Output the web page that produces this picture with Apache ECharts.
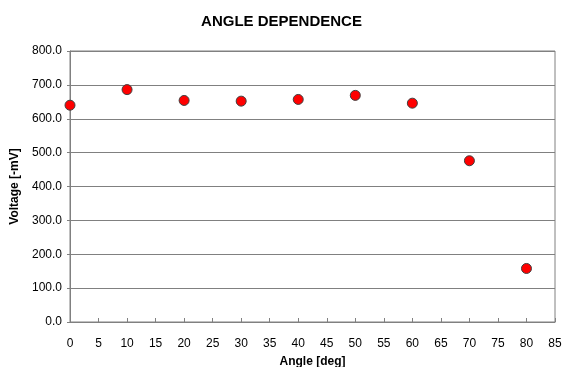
<!DOCTYPE html>
<html><head><meta charset="utf-8">
<script src="https://cdn.jsdelivr.net/npm/echarts@6/dist/echarts.min.js"></script>
<style>html,body{margin:0;padding:0;background:#fff}#c{width:563px;height:367px}</style>
</head><body><div id="c"></div>
<script>
const angles = [0, 10, 20, 30, 40, 50, 60, 70, 80];
const voltages = [640, 686, 654, 652, 657, 669, 646, 476, 158];
const chart = echarts.init(document.getElementById('c'));
chart.setOption({
  animation: false,
  backgroundColor: '#fff',
  title: {text: 'ANGLE DEPENDENCE', left: 'center', top: 9,
    textStyle: {fontFamily: 'Liberation Sans, Arial', fontSize: 15, fontWeight: 'bold', color: '#000'}},
  grid: {left: 70, right: 8, top: 51, bottom: 45, show: true, borderColor: '#808080', borderWidth: 1,
    containLabel: false, outerBoundsMode: 'none'},
  xAxis: {type: 'value', min: 0, max: 85, interval: 5,
    name: 'Angle [deg]', nameLocation: 'middle', nameGap: 34,
    nameTextStyle: {fontFamily: 'Liberation Sans, Arial', fontSize: 12, fontWeight: 'bold', color: '#000'},
    axisLine: {lineStyle: {color: '#808080'}},
    axisTick: {show: true, inside: true, length: 4, lineStyle: {color: '#808080'}},
    axisLabel: {fontFamily: 'Liberation Sans, Arial', fontSize: 12, color: '#000', margin: 16},
    splitLine: {show: false}},
  yAxis: {type: 'value', min: 0, max: 800, interval: 100,
    name: 'Voltage [-mV]', nameLocation: 'middle', nameGap: 46, nameRotate: 90,
    nameTextStyle: {fontFamily: 'Liberation Sans, Arial', fontSize: 12, fontWeight: 'bold', color: '#000'},
    axisLine: {show: true, lineStyle: {color: '#808080'}},
    axisTick: {show: true, length: 3, lineStyle: {color: '#808080'}},
    axisLabel: {fontFamily: 'Liberation Sans, Arial', fontSize: 12, color: '#000', margin: 8,
      formatter: v => v.toFixed(1)},
    splitLine: {show: true, lineStyle: {color: '#808080', width: 1}}},
  series: [{type: 'scatter', data: angles.map((a, i) => [a, voltages[i]]),
    symbolSize: 10, itemStyle: {color: '#ff0000', opacity: 1, borderColor: '#404040', borderWidth: 1}}]
});
</script></body></html>
